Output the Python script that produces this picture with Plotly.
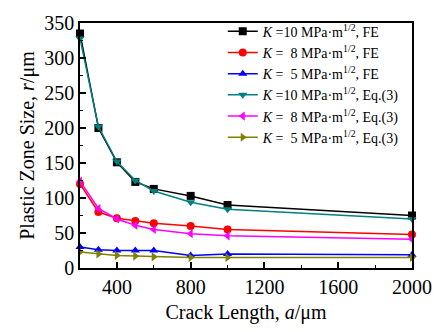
import plotly.graph_objects as go

crack_length = [200, 300, 400, 500, 600, 800, 1000, 2000]
k10_fe = [335, 200, 151, 123, 113, 103, 90, 75]
k8_fe = [120, 80, 71, 67, 64, 60, 55, 48]
k5_fe = [30, 26, 25, 25, 25, 18, 20, 19]
k10_eq = [328, 202, 152, 125, 110, 94, 84, 70]
k8_eq = [124, 85, 70, 61, 55, 49, 46, 41]
k5_eq = [23, 20, 18, 17, 16, 15, 15, 15]

series = [
    ("<i>K</i> =10 MPa·m<sup>1/2</sup>, FE", k10_fe, "#000000", "square"),
    ("<i>K</i> =  8 MPa·m<sup>1/2</sup>, FE", k8_fe, "#FF0000", "circle"),
    ("<i>K</i> =  5 MPa·m<sup>1/2</sup>, FE", k5_fe, "#0000FF", "triangle-up"),
    ("<i>K</i> =10 MPa·m<sup>1/2</sup>, Eq.(3)", k10_eq, "#008080", "triangle-down"),
    ("<i>K</i> =  8 MPa·m<sup>1/2</sup>, Eq.(3)", k8_eq, "#FF00FF", "triangle-left"),
    ("<i>K</i> =  5 MPa·m<sup>1/2</sup>, Eq.(3)", k5_eq, "#808000", "triangle-right"),
]

fig = go.Figure()
for name, ys, color, sym in series:
    fig.add_trace(go.Scatter(
        x=crack_length, y=ys, name=name, mode="lines+markers",
        line=dict(color=color, width=1.5),
        marker=dict(symbol=sym, size=8, color=color),
        cliponaxis=False,
    ))

font_family = "Liberation Serif, Times New Roman, serif"
fig.update_layout(
    width=444, height=332,
    margin=dict(l=80, r=19, t=16, b=59),
    paper_bgcolor="white", plot_bgcolor="white",
    font=dict(family=font_family, color="black", size=20),
    showlegend=True,
    legend=dict(
        x=0.43, y=1.03, xanchor="left", yanchor="top",
        bgcolor="rgba(0,0,0,0)", borderwidth=0,
        font=dict(size=14, family=font_family),
        itemwidth=30, tracegroupgap=0,
    ),
    xaxis=dict(
        range=[200, 2000], tickvals=[400, 800, 1200, 1600, 2000],
        ticks="inside", ticklen=6, tickwidth=1.5, tickcolor="black",
        minor=dict(tickvals=[200, 600, 1000, 1400, 1800], ticks="inside", ticklen=3, tickcolor="black", tickwidth=1),
        showline=True, linecolor="black", linewidth=1.5, mirror=True,
        showgrid=False, zeroline=False, ticklabeloverflow="allow",
        title=dict(text="Crack Length, <i>a</i>/μm", font=dict(size=20), standoff=8),
        tickfont=dict(size=20),
    ),
    yaxis=dict(
        range=[0, 350], tickvals=[0, 50, 100, 150, 200, 250, 300, 350],
        ticks="inside", ticklen=6, tickwidth=1.5, tickcolor="black",
        minor=dict(tickvals=[25, 75, 125, 175, 225, 275, 325], ticks="inside", ticklen=3, tickcolor="black", tickwidth=1),
        showline=True, linecolor="black", linewidth=1.5, mirror=True,
        showgrid=False, zeroline=False, ticklabeloverflow="allow",
        title=dict(text="Plastic Zone Size, <i>r</i>/μm", font=dict(size=20), standoff=4),
        tickfont=dict(size=20),
    ),
)

fig.write_html("out.html")
